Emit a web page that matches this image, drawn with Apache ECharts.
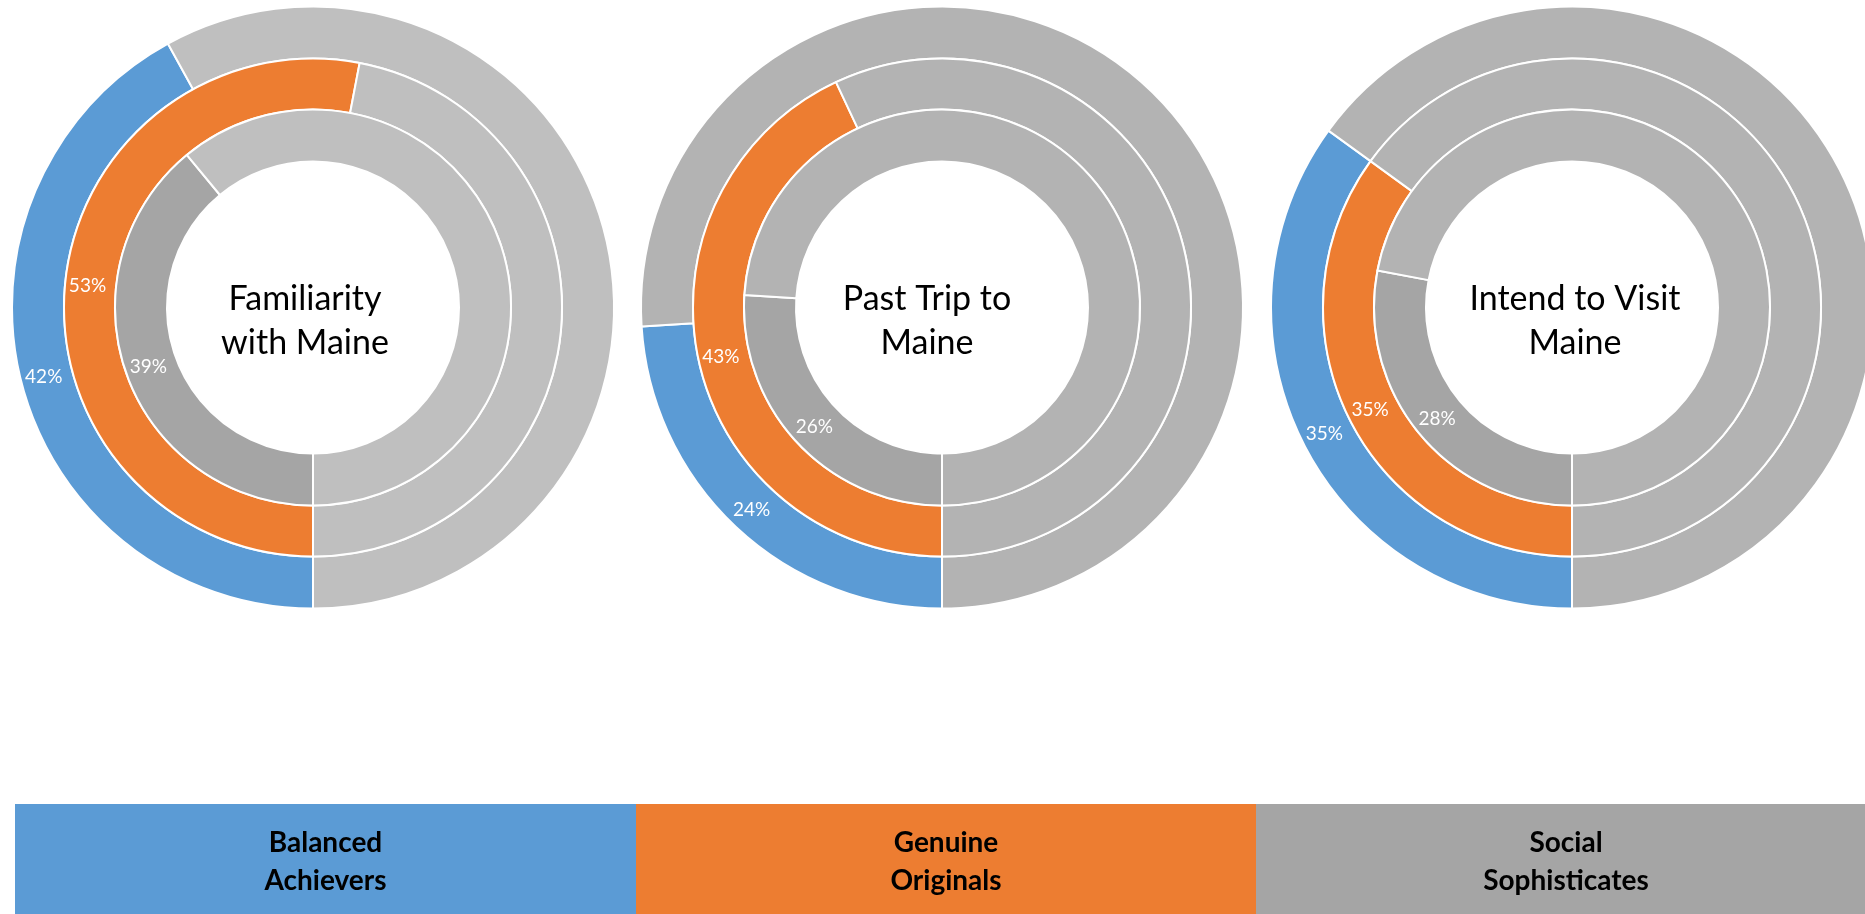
<!DOCTYPE html>
<html>
<head>
<meta charset="utf-8">
<script src="https://cdn.jsdelivr.net/npm/echarts@6/dist/echarts.min.js"></script>
<style>
  html, body { margin: 0; padding: 0; background: #fff; }
  #chart { width: 1865px; height: 914px; }
</style>
</head>
<body>
<div id="chart"></div>
<script>
// ---- data ----
const segments = ['Balanced Achievers', 'Genuine Originals', 'Social Sophisticates'];
const segmentLabels = ['Balanced\nAchievers', 'Genuine\nOriginals', 'Social\nSophisticates'];
const measures = ['Familiarity\nwith Maine', 'Past Trip to\nMaine', 'Intend to Visit\nMaine'];
const balancedAchievers = [42, 24, 35];   // outer ring, per measure
const genuineOriginals = [53, 43, 35];    // middle ring
const socialSophisticates = [39, 26, 28]; // inner ring

// ---- styling ----
const segColors = ['#5B9BD5', '#ED7D31', '#A5A5A5'];
const restColors = ['#BFBFBF', '#B3B3B3', '#B3B3B3'];
const centersX = [313, 942, 1572];
const textX = [305, 927, 1575];
const centerY = 307.5;
const ringRadii = [[249, 301], [198, 249], [146, 198]]; // outer, middle, inner
const ringValues = [balancedAchievers, genuineOriginals, socialSophisticates];

const series = [];
measures.forEach((m, ci) => {
  ringValues.forEach((vals, ri) => {
    const v = vals[ci];
    series.push({
      type: 'pie',
      name: segments[ri] + ' - ' + m.replace('\n', ' '),
      center: [centersX[ci], centerY],
      radius: ringRadii[ri],
      startAngle: -90,
      clockwise: true,
      silent: true,
      animation: false,
      avoidLabelOverlap: false,
      labelLine: { show: false },
      itemStyle: { borderColor: '#ffffff', borderWidth: 2 },
      data: [
        {
          value: v, name: segments[ri],
          itemStyle: { color: segColors[ri] },
          label: {
            show: true, position: 'inside', formatter: v + '%',
            color: '#ffffff', fontFamily: 'Lato', fontSize: 19
          }
        },
        {
          value: 100 - v, name: 'Other',
          itemStyle: { color: restColors[ci] },
          label: { show: false }
        }
      ]
    });
  });
});

const graphic = [];
measures.forEach((m, ci) => {
  graphic.push({
    type: 'text', x: textX[ci], y: 321, silent: true,
    style: {
      text: m, fill: '#000000', font: '34px Lato',
      textAlign: 'center', textVerticalAlign: 'middle', lineHeight: 44
    }
  });
});
const legendX = [15, 636, 1256];
const legendW = [621, 620, 620];
segments.forEach((s, i) => {
  graphic.push({
    type: 'rect', shape: { x: legendX[i], y: 804, width: legendW[i], height: 112 },
    style: { fill: segColors[i] }, silent: true
  });
  graphic.push({
    type: 'text', x: legendX[i] + legendW[i] / 2, y: 862, silent: true,
    style: {
      text: segmentLabels[i], fill: '#000000', font: 'bold 28px Lato',
      textAlign: 'center', textVerticalAlign: 'middle', lineHeight: 38
    }
  });
});

const chart = echarts.init(document.getElementById('chart'), null, { renderer: 'canvas' });
chart.setOption({
  backgroundColor: '#ffffff',
  animation: false,
  series: series,
  graphic: graphic
});
</script>
</body>
</html>
